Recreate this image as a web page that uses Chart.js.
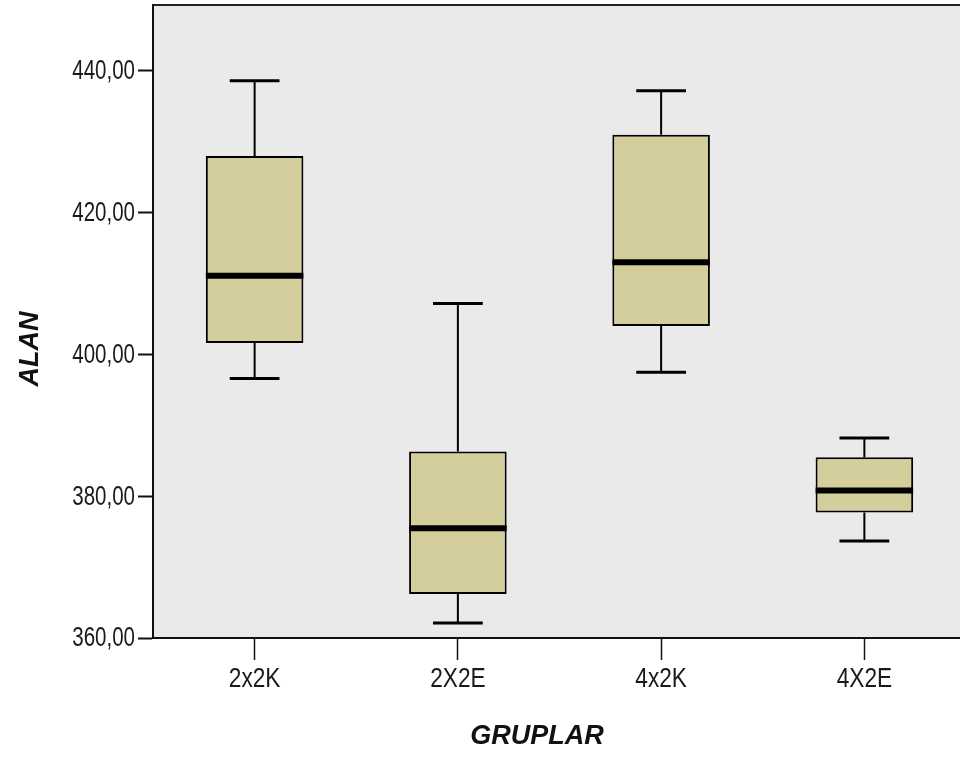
<!DOCTYPE html>
<html>
<head>
<meta charset="utf-8">
<script src="https://cdn.jsdelivr.net/npm/chart.js@4.4.1/dist/chart.umd.min.js"></script>
<style>
  html, body { margin: 0; padding: 0; background: #fff; overflow: hidden; }
  #wrap { width: 966px; height: 758px; }
</style>
</head>
<body>
<div id="wrap"><canvas id="boxChart" width="966" height="758"></canvas></div>
<script>
// groups and box plot values
const groups = ['2x2K', '2X2E', '4x2K', '4X2E'];
const whiskerLow = [396.6, 362.1, 397.5, 373.7];
const q1 = [401.6, 366.2, 404.0, 377.7];
const median = [411.1, 375.5, 413.0, 380.8];
const q3 = [428.0, 386.3, 431.0, 385.5];
const whiskerHigh = [438.6, 407.2, 437.2, 388.2];
const yTicks = [360, 380, 400, 420, 440];

const labelFont = "'Liberation Sans', Arial, sans-serif";

// narrow tick text, like the SPSS output
function narrowText(ctx, text, x, y, align, squeeze) {
  ctx.save();
  ctx.translate(x, y);
  ctx.scale(squeeze, 1);
  ctx.textAlign = align;
  ctx.fillText(text, 0, 0);
  ctx.restore();
}

// grey panel, whiskers, medians, frame, tick labels and axis titles
const boxPlotPlugin = {
  id: 'boxPlot',
  beforeDraw(chart) {
    const { ctx, chartArea } = chart;
    ctx.save();
    ctx.fillStyle = '#EAEAEA';
    ctx.fillRect(chartArea.left, chartArea.top, chartArea.right - chartArea.left, chartArea.bottom - chartArea.top);
    ctx.restore();
  },
  afterDatasetsDraw(chart) {
    const { ctx } = chart;
    const x = chart.scales.x;
    const y = chart.scales.y;
    const meta = chart.getDatasetMeta(0);
    ctx.save();
    ctx.strokeStyle = '#000';
    groups.forEach((g, i) => {
      const bar = meta.data[i];
      const xc = x.getPixelForValue(i);
      const half = bar.width / 2;
      const cap = bar.width * 0.255;
      // whiskers
      ctx.lineWidth = 2;
      ctx.beginPath();
      ctx.moveTo(xc, y.getPixelForValue(q3[i]));
      ctx.lineTo(xc, y.getPixelForValue(whiskerHigh[i]));
      ctx.moveTo(xc, y.getPixelForValue(q1[i]));
      ctx.lineTo(xc, y.getPixelForValue(whiskerLow[i]));
      ctx.stroke();
      // caps
      ctx.lineWidth = 3;
      ctx.beginPath();
      ctx.moveTo(xc - cap, y.getPixelForValue(whiskerHigh[i]));
      ctx.lineTo(xc + cap, y.getPixelForValue(whiskerHigh[i]));
      ctx.moveTo(xc - cap, y.getPixelForValue(whiskerLow[i]));
      ctx.lineTo(xc + cap, y.getPixelForValue(whiskerLow[i]));
      ctx.stroke();
      // median
      ctx.lineWidth = 6;
      ctx.beginPath();
      ctx.moveTo(xc - half, y.getPixelForValue(median[i]));
      ctx.lineTo(xc + half, y.getPixelForValue(median[i]));
      ctx.stroke();
    });
    ctx.restore();
  },
  afterDraw(chart) {
    const { ctx, chartArea } = chart;
    const x = chart.scales.x;
    const y = chart.scales.y;
    ctx.save();
    // top and right frame
    ctx.strokeStyle = '#222';
    ctx.lineWidth = 2;
    ctx.beginPath();
    ctx.moveTo(chartArea.left, chartArea.top);
    ctx.lineTo(chartArea.right, chartArea.top);
    ctx.lineTo(chartArea.right, chartArea.bottom);
    ctx.stroke();
    // tick labels
    ctx.fillStyle = '#1a1a1a';
    ctx.font = '27px ' + labelFont;
    ctx.textBaseline = 'middle';
    yTicks.forEach(v => {
      narrowText(ctx, v.toFixed(2).replace('.', ','), 135, y.getPixelForValue(v) + 1, 'right', 0.76);
    });
    groups.forEach((g, i) => {
      narrowText(ctx, g, x.getPixelForValue(i), 680, 'center', 0.84);
    });
    // axis titles
    ctx.fillStyle = '#111';
    ctx.font = 'italic bold 27px ' + labelFont;
    ctx.textAlign = 'center';
    ctx.fillText('GRUPLAR', 537, 737);
    ctx.translate(31, 349);
    ctx.rotate(-Math.PI / 2);
    ctx.fillText('ALAN', 0, 0);
    ctx.restore();
  }
};

const ctx = document.getElementById('boxChart').getContext('2d');
const boxChart = new Chart(ctx, {
  type: 'bar',
  data: {
    labels: groups,
    datasets: [{
      data: q1.map((v, i) => [v, q3[i]]),
      backgroundColor: '#D3CE9B',
      borderColor: '#000',
      borderWidth: 2,
      borderSkipped: false,
      barPercentage: 0.48,
      categoryPercentage: 1
    }]
  },
  options: {
    responsive: false,
    animation: false,
    layout: { padding: { top: 5, right: 0, left: 0, bottom: 0 } },
    plugins: {
      legend: { display: false },
      tooltip: { enabled: false }
    },
    scales: {
      x: {
        grid: {
          display: true,
          drawOnChartArea: false,
          tickLength: 22,
          tickColor: '#111',
          tickWidth: 1.5,
          offset: false
        },
        border: { display: true, color: '#111', width: 2 },
        ticks: { display: false },
        afterFit(scale) {
          scale.height = 120;
          scale.paddingLeft = 0;
          scale.paddingRight = 0;
        }
      },
      y: {
        min: 360,
        max: 449.3,
        afterBuildTicks(scale) {
          scale.ticks = yTicks.map(v => ({ value: v }));
        },
        grid: {
          display: true,
          drawOnChartArea: false,
          tickLength: 15,
          tickColor: '#111',
          tickWidth: 2
        },
        border: { display: true, color: '#111', width: 2 },
        ticks: { display: false },
        afterFit(scale) {
          scale.width = 153;
          scale.paddingTop = 0;
          scale.paddingBottom = 0;
        }
      }
    }
  },
  plugins: [boxPlotPlugin]
});
</script>
</body>
</html>
